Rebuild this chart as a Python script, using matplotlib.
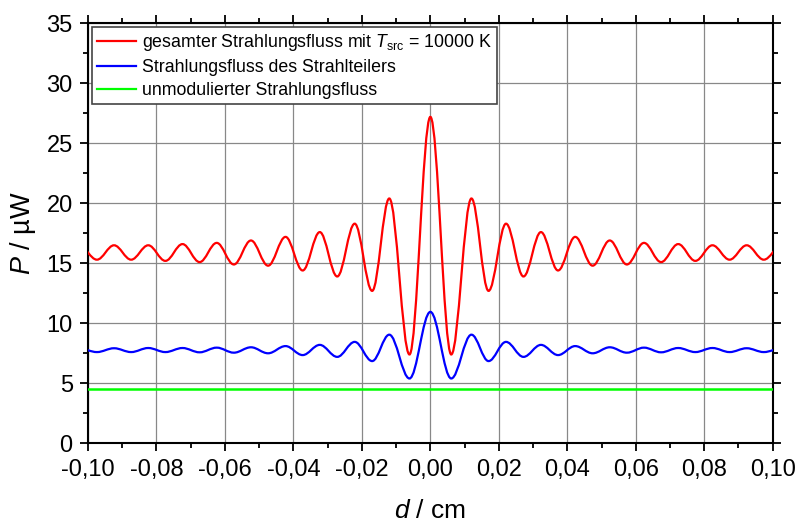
import numpy as np
import matplotlib
matplotlib.use('Agg')
import matplotlib.pyplot as plt
from matplotlib.path import Path
from matplotlib.patches import PathPatch
from matplotlib.lines import Line2D
from matplotlib.ticker import MultipleLocator, FuncFormatter

plt.rcParams['font.family'] = ['Liberation Sans', 'DejaVu Sans']
plt.rcParams['mathtext.fontset'] = 'custom'
plt.rcParams['mathtext.rm'] = 'Liberation Sans'
plt.rcParams['mathtext.it'] = 'Liberation Sans:italic'

# extrema of the interferogram (positive half, curve is symmetric about d = 0)
d_ext = [0.0, 0.0061, 0.0120, 0.0170, 0.0221, 0.0272, 0.0323, 0.0373, 0.0423,
         0.0474, 0.0524, 0.0574, 0.0624, 0.0674, 0.0724, 0.0774, 0.0824,
         0.0874, 0.0924, 0.0974, 0.1025]
p_total = [27.2, 7.4, 20.4, 12.7, 18.3, 13.9, 17.6, 14.4, 17.2, 14.8, 16.9,
           14.9, 16.7, 15.1, 16.6, 15.2, 16.5, 15.3, 16.5, 15.3, 16.45]
p_split = [10.95, 5.4, 9.05, 6.85, 8.45, 7.2, 8.2, 7.35, 8.1, 7.5, 8.0,
           7.55, 7.97, 7.58, 7.94, 7.6, 7.94, 7.6, 7.92, 7.6, 7.9]
p_unmod = 4.55

labels = [r'gesamter Strahlungsfluss mit $T_{\mathrm{src}}$ = 10000 K',
          'Strahlungsfluss des Strahlteilers',
          'unmodulierter Strahlungsfluss']
colors = ['#ff0000', '#0000ff', '#00ff00']


def mirrored(x, y):
    x = np.asarray(x)
    y = np.asarray(y)
    return (np.concatenate([-x[:0:-1], x]), np.concatenate([y[:0:-1], y]))


def smooth_path(x, y, k=0.363):
    # cubic Bezier between neighbouring extrema, horizontal tangent at each one
    verts = [(x[0], y[0])]
    codes = [Path.MOVETO]
    for i in range(len(x) - 1):
        dx = x[i + 1] - x[i]
        verts += [(x[i] + k * dx, y[i]), (x[i + 1] - k * dx, y[i + 1]),
                  (x[i + 1], y[i + 1])]
        codes += [Path.CURVE4] * 3
    return Path(verts, codes)


fig = plt.figure(figsize=(7.98, 5.22), dpi=100)
ax = fig.add_axes([0.1103, 0.1508, 0.8580, 0.8046])

for yv, c in [(p_total, colors[0]), (p_split, colors[1])]:
    xs, ys = mirrored(d_ext, yv)
    ax.add_patch(PathPatch(smooth_path(xs, ys), fill=False, edgecolor=c,
                           lw=1.6, zorder=3))
ax.axhline(p_unmod, color=colors[2], lw=1.8, zorder=3)

ax.set_xlim(-0.10, 0.10)
ax.set_ylim(0, 35)
ax.xaxis.set_major_locator(MultipleLocator(0.02))
ax.xaxis.set_minor_locator(MultipleLocator(0.01))
ax.yaxis.set_major_locator(MultipleLocator(5))
ax.yaxis.set_minor_locator(MultipleLocator(2.5))
ax.xaxis.set_major_formatter(FuncFormatter(
    lambda v, pos: f'{v:.2f}'.replace('.', ',').replace('-0,00', '0,00')))
ax.yaxis.set_major_formatter(FuncFormatter(lambda v, pos: f'{v:.0f}'))

ax.grid(True, which='major', color='#888888', lw=0.9, zorder=0)
ax.set_axisbelow(True)
for s in ax.spines.values():
    s.set_linewidth(1.5)
ax.tick_params(which='both', direction='out', top=True, right=True,
               width=1.3, labelsize=17)
ax.tick_params(which='major', length=6, pad=5)
ax.tick_params(which='minor', length=3.5)

ax.set_xlabel(r'$d$ / cm', fontsize=19, labelpad=13)
ax.set_ylabel(r'$P$ / µW', fontsize=19.5, labelpad=6)

handles = [Line2D([], [], color=c, lw=1.6) for c in colors]
leg = ax.legend(handles, labels, loc='upper left', fontsize=12.8,
                frameon=True, fancybox=False, borderaxespad=0.2,
                borderpad=0.3, handlelength=2.2, handletextpad=0.35,
                labelspacing=0.33)
leg.get_frame().set_edgecolor('#444444')
leg.get_frame().set_linewidth(1.2)
leg.get_frame().set_alpha(1)

fig.savefig('out.png', dpi=100)
